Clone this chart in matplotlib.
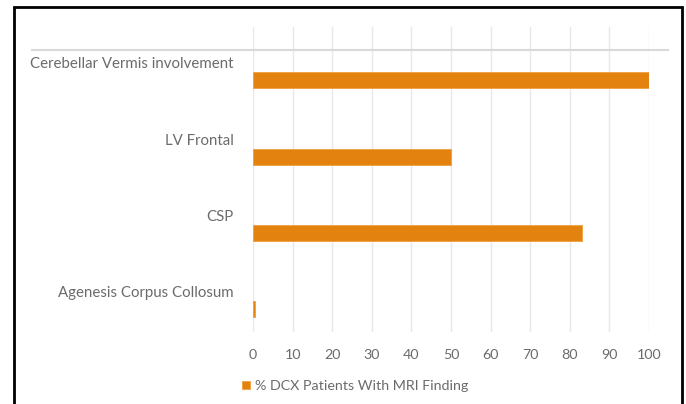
import matplotlib
matplotlib.use("Agg")
from matplotlib import pyplot as plt
from matplotlib.patches import Rectangle
from matplotlib.lines import Line2D

# data
categories = ["Cerebellar Vermis involvement", "LV Frontal", "CSP", "Agenesis Corpus Collosum"]
values = [100, 50, 83, 0.5]
series_name = "% DCX Patients With MRI Finding"
xticks = list(range(0, 101, 10))

plt.rcParams["font.family"] = ["Lato", "DejaVu Sans"]
text_color = "#6b6b6b"
bar_color = "#E3820F"

W, H = 686, 404
fig = plt.figure(figsize=(W / 100, H / 100), dpi=100)
fig.patch.set_facecolor("white")

ax = fig.add_axes([253 / W, 1 - 332 / H, (649 - 253) / W, (332 - 27) / H])

pos = list(range(len(categories)))
ax.barh([p + 0.2 for p in pos], values, height=0.21, color=bar_color,
        edgecolor="#F0A040", linewidth=0.6, label=series_name, zorder=3)

ax.set_xlim(0, 100)
ax.set_ylim(len(categories) - 0.5, -0.5)
ax.set_xticks(xticks)
ax.set_xticklabels([str(t) for t in xticks])
ax.set_yticks([p - 0.03 for p in pos])
ax.set_yticklabels(categories)
ax.tick_params(axis="y", length=0, pad=14, labelsize=10.8, labelcolor=text_color)
ax.tick_params(axis="x", length=0, pad=12, labelsize=10.3, labelcolor=text_color)
ax.grid(axis="x", color="#e8e8e8", linewidth=1, zorder=0)
for s in ax.spines.values():
    s.set_visible(False)

# gray line across the top
fig.add_artist(Line2D([32 / W, 668 / W], [1 - 50 / H, 1 - 50 / H],
                      color="#d9d9d9", linewidth=1.5, transform=fig.transFigure))

leg = ax.legend(loc="upper left", bbox_to_anchor=(-0.06, -0.115), frameon=False,
                fontsize=10.3, handlelength=0.55, handleheight=0.55, handletextpad=0.35)
for t in leg.get_texts():
    t.set_color(text_color)

# black frame
fig.add_artist(Rectangle((14 / W, -0.05), (682 - 14) / W, 1.05 - 7 / H,
                         fill=False, edgecolor="black", linewidth=2,
                         transform=fig.transFigure))

fig.savefig("out.png", dpi=100)
